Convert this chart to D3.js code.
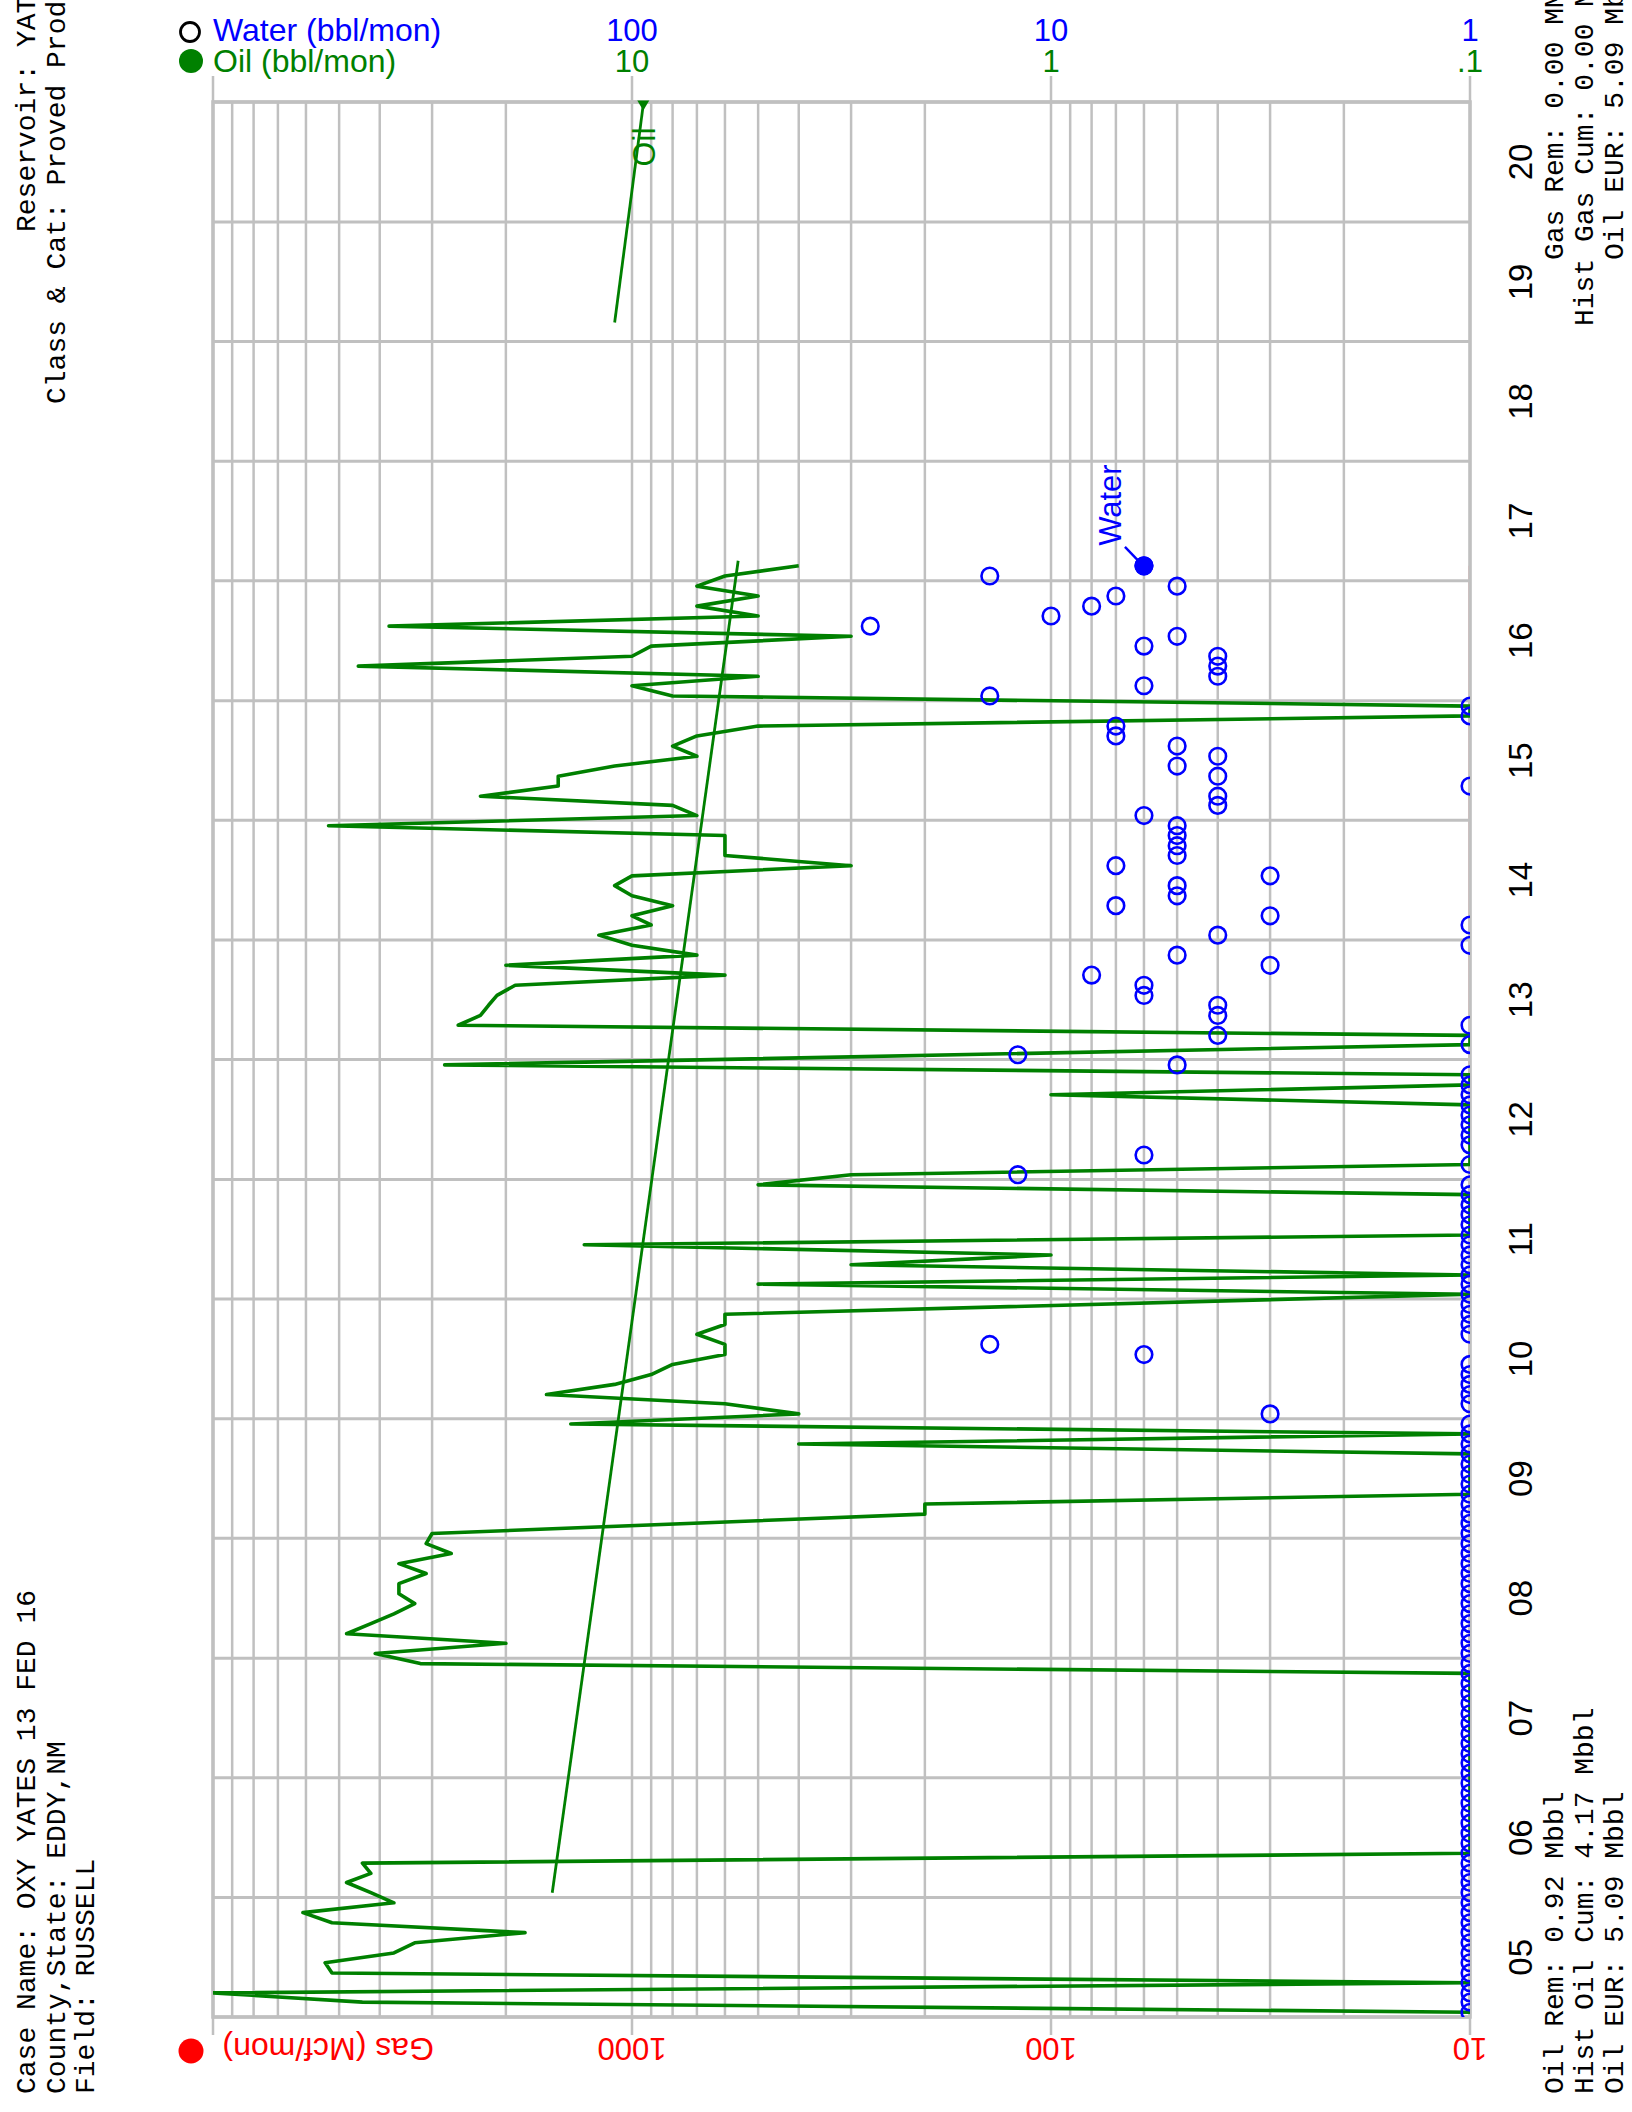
<!DOCTYPE html>
<html>
<head>
<meta charset="utf-8">
<script src="https://cdn.jsdelivr.net/npm/d3@7"></script>
<style>
  body { margin: 0; background: #fff; }
  svg { display: block; }
</style>
</head>
<body>
<svg id="chart" width="1632" height="2112"></svg>
<script>
// ---- Monthly oil production (bbl/mon); zero months clamp to the axis floor ----
const oilMonths = [
  "2005-01","2005-02","2005-03","2005-04","2005-05","2005-06","2005-07","2005-08","2005-09","2005-10","2005-11","2005-12",
  "2006-01","2006-02","2006-03","2006-04","2006-05",
  "2007-11","2007-12",
  "2008-01","2008-02","2008-03","2008-04","2008-05","2008-06","2008-07","2008-08","2008-09","2008-10","2008-11","2008-12",
  "2009-01","2009-03","2009-04","2009-05","2009-09","2009-10","2009-11","2009-12",
  "2010-01","2010-02","2010-03","2010-04","2010-05","2010-06","2010-07","2010-08","2010-09","2010-10","2010-11",
  "2011-01","2011-02","2011-03","2011-04","2011-05","2011-06","2011-07","2011-11","2011-12",
  "2012-01","2012-02","2012-08","2012-09","2012-10","2012-11","2012-12",
  "2013-02","2013-03","2013-04","2013-05","2013-06","2013-07","2013-08","2013-09","2013-10","2013-11","2013-12",
  "2014-01","2014-02","2014-03","2014-04","2014-05","2014-06","2014-07","2014-08","2014-09","2014-10","2014-11","2014-12",
  "2015-01","2015-02","2015-03","2015-04","2015-05","2015-06","2015-07","2015-08","2015-09","2015-10","2015-11","2015-12",
  "2016-01","2016-02","2016-03","2016-04","2016-05","2016-06","2016-07","2016-08","2016-09","2016-10","2016-11","2016-12",
  "2017-01","2017-02"
];
const oilRates = [
  0,44,100,0,52,54,37,33,18,52,61,37,
  42,48,42,44,0,
  0,32,
  41,20,48,42,37,33,36,36,31,36,27,31,
  30,2,2,0,0,4,0,14,
  4,6,16,11,9,8,6,6,7,6,6,
  0,5,0,3,1,13,0,0,5,
  3,0,0,1,0,0,28,
  0,0,26,23,22,21,19,6,20,7,10,
  12,9,10,8,10,11,10,3,6,6,6,53,
  7,8,23,15,15,11,7,8,7,5,0,0,
  8,10,5,45,10,9,3,38,5,7,5,7,
  6,4
];

// ---- Monthly water production (bbl/mon), consecutive months from waterStart ----
const waterStart = "2005-01";
const waterRates = [
  0,0,0,0,0,0,0,0,0,0,0,0,        // 2005
  0,0,0,0,0,0,0,0,0,0,0,0,        // 2006
  0,0,0,0,0,0,0,0,0,0,0,0,        // 2007
  0,0,0,0,0,0,0,0,0,0,0,0,        // 2008
  0,0,0,0,0,0,0,0,0,0,0,0,        // 2009
  3,0,0,0,0,0,6,14,0,0,0,0,       // 2010
  0,0,0,0,0,0,0,0,0,0,0,0,        // 2011
  12,0,6,0,0,0,0,0,0,0,0,5,       // 2012
  12,0,4,0,4,4,6,6,8,3,5,0,       // 2013
  4,0,3,7,5,5,3,7,5,5,5,5,        // 2014
  6,4,4,0,4,5,4,5,7,7,0,0,        // 2015
  14,6,4,4,4,6,5,27,10,8,7,5,     // 2016
  14,6                            // 2017
];

// ---- Gas (Mcf/mon): no gas reported over the producing life ----
const gasMonths = ["2005-01", "2017-02"];
const gasRates = [0, 0];

// ---- Oil trend through history and the oil forecast ----
const trendDates = ["2006-01-15", "2017-03-03"];
const trendRates = [15.5, 5.58];
const forecastDates = ["2019-02-28", "2020-12-24"];
const forecastRates = [11.0, 9.4];

// ---- Axis labels ----
const waterTickValues = [100, 10, 1];
const waterTickLabels = ["100", "10", "1"];
const oilTickValues = [10, 1, 0.1];
const oilTickLabels = ["10", "1", ".1"];
const gasTickValues = [1000, 100, 10];
const gasTickLabels = ["1000", "100", "10"];
const yearStart = 2005, yearEnd = 2021;

// ---- Header / footer text ----
const headerLeft = ["Case Name: OXY YATES 13 FED 16", "County,State: EDDY,NM", "Field: RUSSELL"];
const headerRight = ["Reservoir: YATES", "Class & Cat: Proved Producing"];
const footerLeft = ["Oil Rem: 0.92 Mbbl", "Hist Oil Cum: 4.17 Mbbl", "Oil EUR: 5.09 Mbbl"];
const footerRight = ["Gas Rem: 0.00 MMcf", "Hist Gas Cum: 0.00 MMcf", "Oil EUR: 5.09 Mbbl"];

// ================= drawing =================
const GREEN = "#008000", BLUE = "#0000ff", RED = "#ff0000", GRID = "#c0c0c0";
const SANS = "'Liberation Sans', Arial, Helvetica, sans-serif";
const MONO = "'Courier New', Courier, 'Liberation Mono', monospace";

const plot = { left: 213, right: 1470, top: 102, bottom: 2017 };
const svg = d3.select("#chart");

const gasX = d3.scaleLog().domain([10000, 10]).range([plot.left, plot.right]);
const waterX = d3.scaleLog().domain([1000, 1]).range([plot.left, plot.right]);
const oilX = d3.scaleLog().domain([100, 0.1]).range([plot.left, plot.right]);
const y = d3.scaleUtc()
  .domain([new Date(Date.UTC(yearStart, 0, 1)), new Date(Date.UTC(yearEnd, 0, 1))])
  .range([plot.bottom, plot.top]);

const midMonth = s => { const [yy, mm] = s.split("-").map(Number); return new Date(Date.UTC(yy, mm - 1, 15, 12)); };
const parseDay = d3.utcParse("%Y-%m-%d");
const isDecade = v => Math.abs(Math.log10(v) - Math.round(Math.log10(v))) < 1e-9;

svg.append("defs").append("clipPath").attr("id", "plotClip")
  .append("rect")
  .attr("x", plot.left).attr("y", plot.top)
  .attr("width", plot.right - plot.left).attr("height", plot.bottom - plot.top);

// gas line sits on the axis floor, under the frame
const gasPts = gasMonths.map((m, i) => ({ date: midMonth(m), v: gasRates[i] }));
svg.append("g").attr("clip-path", "url(#plotClip)")
  .append("path").datum(gasPts)
  .attr("fill", "none").attr("stroke", RED).attr("stroke-width", 2.5)
  .attr("d", d3.line().x(d => gasX(Math.max(d.v, 10))).y(d => y(d.date)));

// grid: log minor lines across the value axis, one line per year boundary
const grid = svg.append("g");
grid.selectAll("line.v").data(gasX.ticks()).join("line")
  .attr("class", "v")
  .attr("x1", d => gasX(d)).attr("x2", d => gasX(d))
  .attr("y1", d => isDecade(d) ? plot.top - 26 : plot.top)
  .attr("y2", d => isDecade(d) ? plot.bottom + 18 : plot.bottom)
  .attr("stroke", GRID).attr("stroke-width", 2.5);
grid.selectAll("line.h").data(y.ticks(d3.utcYear.every(1))).join("line")
  .attr("class", "h")
  .attr("x1", plot.left).attr("x2", plot.right)
  .attr("y1", d => y(d)).attr("y2", d => y(d))
  .attr("stroke", GRID).attr("stroke-width", 3);
grid.append("rect")
  .attr("x", plot.left).attr("y", plot.top)
  .attr("width", plot.right - plot.left).attr("height", plot.bottom - plot.top)
  .attr("fill", "none").attr("stroke", GRID).attr("stroke-width", 3.5);

// clipped layer so floor values sit on the axis edge
const data = svg.append("g").attr("clip-path", "url(#plotClip)");

// oil history line
const oilPts = oilMonths.map((m, i) => ({ date: midMonth(m), v: oilRates[i] }));
data.append("path").datum(oilPts)
  .attr("fill", "none").attr("stroke", GREEN).attr("stroke-width", 3.6)
  .attr("stroke-linejoin", "round")
  .attr("d", d3.line().x(d => oilX(Math.max(d.v, 0.1))).y(d => y(d.date)));

// oil trend line
const trendPts = trendDates.map((d, i) => ({ date: parseDay(d), v: trendRates[i] }));
data.append("path").datum(trendPts)
  .attr("fill", "none").attr("stroke", GREEN).attr("stroke-width", 2.8)
  .attr("d", d3.line().x(d => oilX(d.v)).y(d => y(d.date)));

// oil forecast
const fcPts = forecastDates.map((d, i) => ({ date: parseDay(d), v: forecastRates[i] }));
data.append("path").datum(fcPts)
  .attr("fill", "none").attr("stroke", GREEN).attr("stroke-width", 2.8)
  .attr("d", d3.line().x(d => oilX(d.v)).y(d => y(d.date)));
const fcEnd = fcPts[fcPts.length - 1];
const fx = oilX(fcEnd.v), fy = y(fcEnd.date);
svg.append("path")
  .attr("d", `M${fx - 6},${fy - 4} L${fx + 6},${fy - 4} L${fx},${fy + 6} Z`)
  .attr("fill", GREEN);
svg.append("text")
  .attr("transform", `translate(${fx + 12},${fy + 62}) rotate(-90)`)
  .attr("font-family", SANS).attr("font-size", 32).attr("fill", GREEN)
  .text("Oil");

// water points
const [wy0, wm0] = waterStart.split("-").map(Number);
const waterPts = waterRates.map((v, i) => ({ date: new Date(Date.UTC(wy0, wm0 - 1 + i, 15, 12)), v }));
data.selectAll("circle.w").data(waterPts).join("circle")
  .attr("class", "w")
  .attr("cx", d => waterX(Math.max(d.v, 1)))
  .attr("cy", d => y(d.date))
  .attr("r", 8.3)
  .attr("fill", "none").attr("stroke", BLUE).attr("stroke-width", 2.6);

// last water point highlighted with its label
const wLast = waterPts[waterPts.length - 1];
const wx = waterX(Math.max(wLast.v, 1)), wy = y(wLast.date);
svg.append("circle").attr("cx", wx).attr("cy", wy).attr("r", 8.8)
  .attr("fill", BLUE).attr("stroke", BLUE).attr("stroke-width", 1.5);
svg.append("line")
  .attr("x1", wx - 19).attr("y1", wy - 19).attr("x2", wx - 6.5).attr("y2", wy - 6)
  .attr("stroke", BLUE).attr("stroke-width", 2.4);
svg.append("text")
  .attr("transform", `translate(${wx - 23},${wy - 20}) rotate(-90)`)
  .attr("font-family", SANS).attr("font-size", 31).attr("fill", BLUE)
  .text("Water");

// value-axis labels: water and oil on top, gas (upside down) at the bottom
const labels = svg.append("g").attr("font-family", SANS).attr("font-size", 31);
labels.selectAll("text.wt").data(waterTickValues).join("text")
  .attr("class", "wt")
  .attr("x", d => waterX(d)).attr("y", 41)
  .attr("text-anchor", "middle").attr("fill", BLUE)
  .text((d, i) => waterTickLabels[i]);
labels.selectAll("text.ot").data(oilTickValues).join("text")
  .attr("class", "ot")
  .attr("x", d => oilX(d)).attr("y", 72)
  .attr("text-anchor", "middle").attr("fill", GREEN)
  .text((d, i) => oilTickLabels[i]);
labels.selectAll("text.gt").data(gasTickValues).join("text")
  .attr("class", "gt")
  .attr("transform", d => `translate(${gasX(d)},2038) rotate(180)`)
  .attr("text-anchor", "middle").attr("fill", RED)
  .text((d, i) => gasTickLabels[i]);

// legend entries
labels.append("circle").attr("cx", 190).attr("cy", 32).attr("r", 9.5)
  .attr("fill", "none").attr("stroke", "#000").attr("stroke-width", 2.8);
labels.append("text").attr("x", plot.left).attr("y", 41).attr("fill", BLUE).attr("font-size", 32).text("Water (bbl/mon)");
labels.append("circle").attr("cx", 191).attr("cy", 61).attr("r", 12).attr("fill", GREEN);
labels.append("text").attr("x", plot.left).attr("y", 72).attr("fill", GREEN).attr("font-size", 32).text("Oil (bbl/mon)");
labels.append("circle").attr("cx", 191).attr("cy", 2051).attr("r", 12.5).attr("fill", RED);
labels.append("text")
  .attr("transform", `translate(434,2038) rotate(180)`)
  .attr("fill", RED).attr("font-size", 32).text("Gas (Mcf/mon)");

// year labels along the time axis
const years = d3.range(yearStart, yearEnd);
svg.append("g").attr("font-family", SANS).attr("font-size", 33).attr("fill", "#000")
  .selectAll("text").data(years).join("text")
  .attr("transform", d => `translate(1532,${y(new Date(Date.UTC(d, 6, 2)))}) rotate(-90)`)
  .attr("text-anchor", "middle")
  .text(d => d3.format("02d")(d % 100));

// header and footer blocks (rotated with the page)
const mono = svg.append("g").attr("font-family", MONO).attr("font-size", 28).attr("fill", "#000");
const block = (lines, xs, ys) => lines.forEach((s, i) => {
  mono.append("text")
    .attr("transform", `translate(${xs[i]},${ys[i]}) rotate(-90)`)
    .attr("xml:space", "preserve")
    .text(s);
});
block(headerLeft, [35, 65, 94], [2094, 2094, 2094]);
block(headerRight, [35, 65], [232, 404]);
block(footerLeft, [1563, 1593, 1623], [2094, 2094, 2094]);
block(footerRight, [1563, 1593, 1623], [260, 326, 260]);
</script>
</body>
</html>
